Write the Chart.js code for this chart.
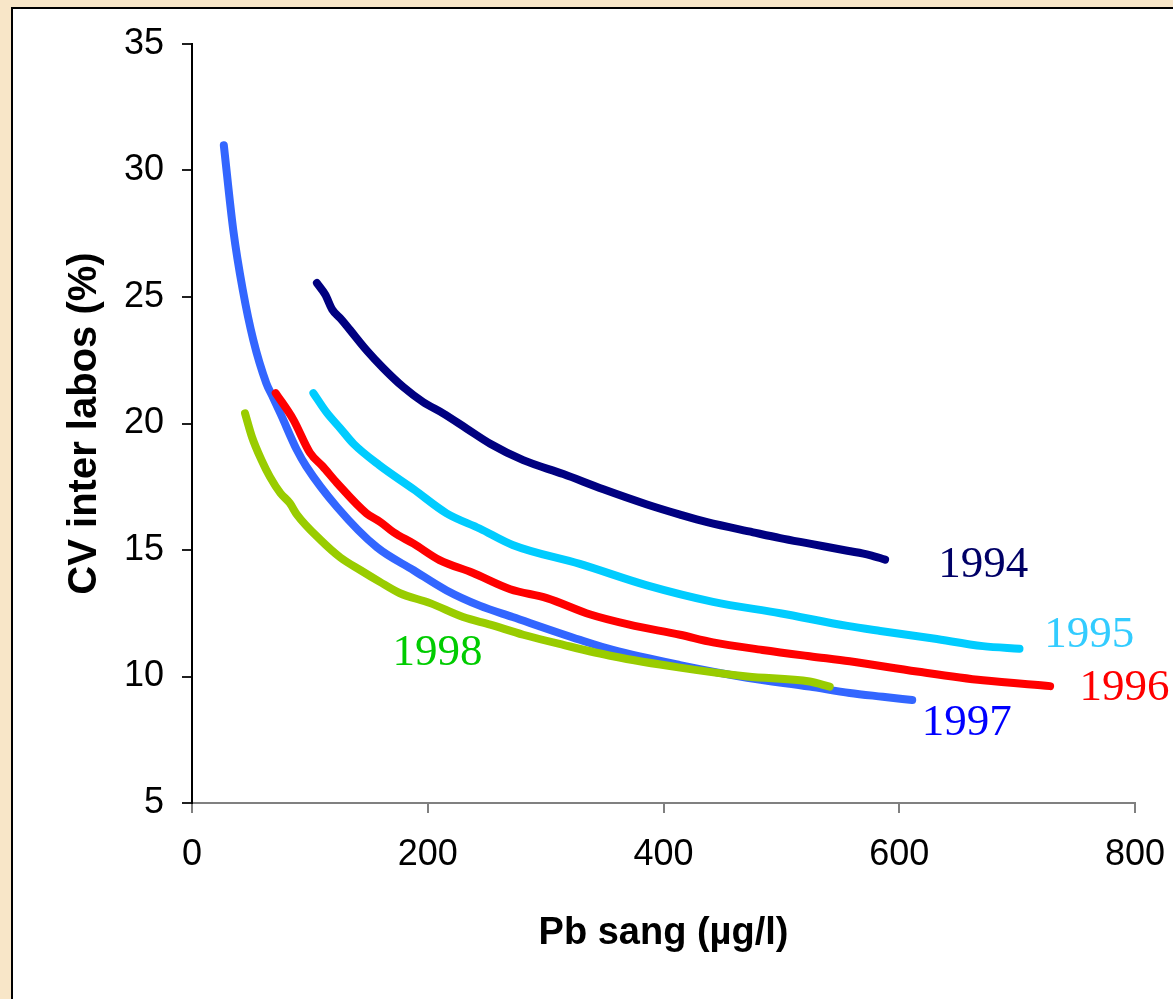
<!DOCTYPE html>
<html>
<head>
<meta charset="utf-8">
<title>CV inter labos</title>
<script src="https://cdn.jsdelivr.net/npm/chart.js@4/dist/chart.umd.min.js"></script>
<style>
  html, body { margin: 0; padding: 0; width: 1173px; height: 999px; overflow: hidden; }
  body { background: #f8e6c8; position: relative; }
  #panel {
    position: absolute; left: 11px; top: 7px; right: 0; bottom: 0;
    background: #fff; border-left: 2px solid #000; border-top: 2px solid #000;
  }
  #wrap { position: absolute; left: 0; top: 0; width: 1173px; height: 999px; }
</style>
</head>
<body>
<div id="panel"></div>
<div id="wrap"><canvas id="chart" width="1173" height="999"></canvas></div>
<script>
// Pb sang (µg/l) and CV inter labos (%) per campaign year
const pb1994 = [106, 113, 119, 127, 134, 148, 162, 179, 196, 213, 233, 253, 281, 315, 349, 386, 414, 437, 476, 499, 524, 556, 575, 588];
const cv1994 = [25.55, 25.1, 24.5, 24.1, 23.7, 22.9, 22.2, 21.45, 20.85, 20.4, 19.8, 19.2, 18.55, 18.0, 17.4, 16.8, 16.4, 16.1, 15.7, 15.47, 15.25, 14.97, 14.8, 14.62];

const pb1995 = [103, 114, 126, 137, 159, 188, 216, 244, 272, 329, 386, 442, 499, 556, 584, 629, 671, 702];
const cv1995 = [21.2, 20.45, 19.8, 19.2, 18.35, 17.4, 16.45, 15.85, 15.2, 14.45, 13.6, 12.95, 12.5, 12.0, 11.8, 11.5, 11.2, 11.1];

const pb1996 = [71, 86, 100, 111, 123, 148, 160, 171, 188, 210, 238, 270, 301, 338, 371, 414, 442, 484, 524, 558, 615, 671, 728];
const cv1996 = [21.2, 20.15, 18.85, 18.3, 17.65, 16.45, 16.1, 15.7, 15.25, 14.6, 14.1, 13.45, 13.1, 12.45, 12.05, 11.65, 11.35, 11.05, 10.8, 10.6, 10.2, 9.85, 9.62];

const pb1997 = [27, 35, 43, 52, 63, 68, 75, 89, 97, 123, 157, 188, 216, 244, 272, 329, 357, 414, 471, 524, 558, 586, 611];
const cv1997 = [31.0, 27.65, 25.3, 23.3, 21.6, 21.1, 20.4, 18.95, 18.3, 16.7, 15.1, 14.2, 13.4, 12.8, 12.35, 11.45, 11.05, 10.45, 9.95, 9.6, 9.35, 9.2, 9.07];

const pb1998 = [45, 51, 59, 66, 75, 83, 89, 109, 126, 143, 159, 176, 202, 230, 253, 281, 315, 357, 414, 471, 524, 541];
const cv1998 = [20.4, 19.45, 18.55, 17.9, 17.25, 16.85, 16.4, 15.4, 14.7, 14.2, 13.75, 13.3, 12.9, 12.35, 12.05, 11.65, 11.25, 10.8, 10.35, 10.0, 9.8, 9.6];

const years = ['1994', '1995', '1996', '1997', '1998'];
const xTicks = [0, 200, 400, 600, 800];
const yTicks = [5, 10, 15, 20, 25, 30, 35];

function toPoints(xs, ys) {
  return xs.map((x, i) => ({ x: x, y: ys[i] }));
}

function series(label, xs, ys, color, order) {
  return {
    label: label,
    data: toPoints(xs, ys),
    borderColor: color,
    backgroundColor: color,
    borderWidth: 8,
    borderCapStyle: 'round',
    borderJoinStyle: 'round',
    pointRadius: 0,
    pointHoverRadius: 0,
    cubicInterpolationMode: 'monotone',
    fill: false,
    order: order
  };
}

// Year tags written next to each curve, placed in data units
const yearTags = [
  { text: years[0], x: 633, y: 13.93, color: '#000066' },
  { text: years[1], x: 723, y: 11.17, color: '#33ccff' },
  { text: years[2], x: 753, y: 9.07, color: '#ff0000' },
  { text: years[3], x: 619, y: 7.69, color: '#0000ff' },
  { text: years[4], x: 170, y: 10.45, color: '#00cc00' }
];

const yearTagPlugin = {
  id: 'yearTags',
  afterDatasetsDraw(chart) {
    const ctx = chart.ctx;
    const xs = chart.scales.x, ys = chart.scales.y;
    ctx.save();
    ctx.font = '45px "Liberation Serif", "Times New Roman", serif';
    ctx.textAlign = 'left';
    ctx.textBaseline = 'alphabetic';
    yearTags.forEach(t => {
      ctx.fillStyle = t.color;
      ctx.fillText(t.text, xs.getPixelForValue(t.x), ys.getPixelForValue(t.y));
    });
    ctx.restore();
  }
};

const tickFont = { family: '"Liberation Sans", Arial, sans-serif', size: 36 };
const xTitleFont = { family: '"Liberation Sans", Arial, sans-serif', size: 38, weight: 'bold' };
const yTitleFont = { family: '"Liberation Sans", Arial, sans-serif', size: 40, weight: 'bold' };

new Chart(document.getElementById('chart').getContext('2d'), {
  type: 'line',
  data: {
    datasets: [
      series(years[0], pb1994, cv1994, '#000080', 5),
      series(years[1], pb1995, cv1995, '#00ccff', 4),
      series(years[2], pb1996, cv1996, '#ff0000', 2),
      series(years[3], pb1997, cv1997, '#3366ff', 3),
      series(years[4], pb1998, cv1998, '#99cc00', 1)
    ]
  },
  options: {
    responsive: false,
    animation: false,
    layout: { padding: { left: 0, top: 44, right: 38, bottom: 0 } },
    plugins: {
      legend: { display: false },
      tooltip: { enabled: false }
    },
    scales: {
      x: {
        type: 'linear',
        min: 0,
        max: 800,
        afterFit(scale) {
          scale.height = 196;
          scale.paddingLeft = 0;
          scale.paddingRight = 0;
        },
        afterBuildTicks(scale) { scale.ticks = xTicks.map(v => ({ value: v })); },
        grid: { drawOnChartArea: false, drawTicks: true, tickLength: 10, color: '#808080', lineWidth: 2 },
        border: { color: '#808080', width: 2 },
        ticks: { color: '#000', font: tickFont, padding: 20, maxRotation: 0 },
        title: { display: true, text: 'Pb sang (µg/l)', color: '#000', font: xTitleFont, padding: { top: 0, bottom: 43 } }
      },
      y: {
        type: 'linear',
        min: 5,
        max: 35,
        afterFit(scale) {
          scale.width = 192;
          scale.paddingTop = 0;
          scale.paddingBottom = 0;
        },
        afterBuildTicks(scale) { scale.ticks = yTicks.map(v => ({ value: v })); },
        grid: { drawOnChartArea: false, drawTicks: true, tickLength: 10, color: '#202020', lineWidth: 2 },
        border: { color: '#000', width: 2 },
        ticks: { color: '#000', font: tickFont, padding: 18 },
        title: { display: true, text: 'CV inter labos (%)', color: '#000', font: yTitleFont, padding: { top: 61, bottom: 0 } }
      }
    }
  },
  plugins: [yearTagPlugin]
});
</script>
</body>
</html>
